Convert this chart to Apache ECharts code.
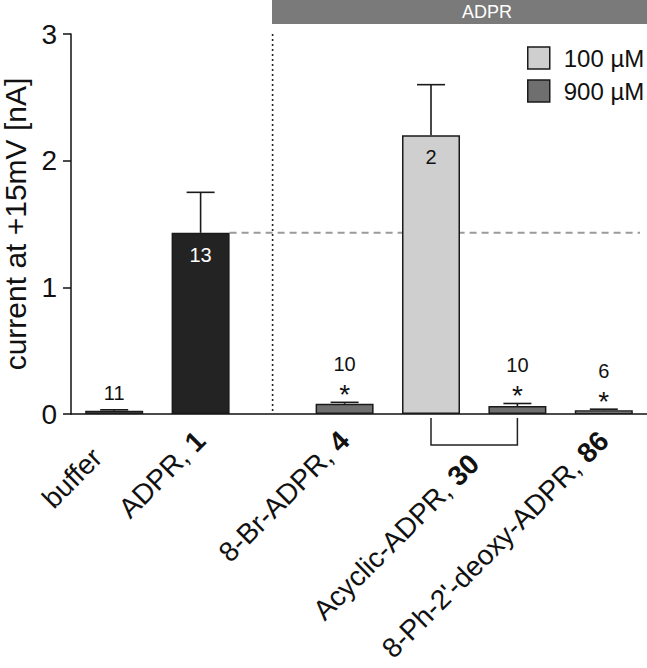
<!DOCTYPE html>
<html><head><meta charset="utf-8">
<script src="https://cdn.jsdelivr.net/npm/echarts@6/dist/echarts.min.js"></script>
<style>html,body{margin:0;padding:0;background:#fff}#c{width:647px;height:668px}</style>
</head><body><div id="c"></div>
<script>
// ---- data ----
const compounds = ['buffer', 'ADPR, 1', '8-Br-ADPR, 4', 'Acyclic-ADPR, 30', 'Acyclic-ADPR, 30', "8-Ph-2'-deoxy-ADPR, 86"];
const concentrations = ['', '', '900 µM', '100 µM', '900 µM', '100 µM'];
const means = [0.025, 1.43, 0.08, 2.2, 0.063, 0.03];
const sems = [0.008, 0.32, 0.012, 0.4, 0.02, 0.008];
const cellCounts = ['11', '13', '10', '2', '10', '6'];
const significant = [false, false, true, false, true, true];
const yTicks = [0, 1, 2, 3];
const legendItems = ['100 µM', '900 µM'];
const bannerText = 'ADPR';
const yTitle = 'current at +15mV [nA]';

// ---- layout ----
const SLOTS = 20;
const slotOf = [1, 4, 9, 12, 15, 18];
const bracketPair = [3, 4];
const dividerSlot = 6;
const refBar = 1;
const FONT = 'Liberation Sans, Arial, Helvetica, sans-serif';
const INK = '#111';
const fills = { control: ['#8e8e8e', '#232323'], '100 µM': '#cfcfcf', '900 µM': '#6f6f6f' };

const cats = Array.from({ length: SLOTS }, (_, k) => 'slot' + k);
const labelOfSlot = {};
slotOf.forEach((s, i) => { labelOfSlot[s] = compounds[i]; });
const labelSlots = slotOf.filter((s, i) => bracketPair.indexOf(i) < 0);
const bracketLabelPos = (slotOf[bracketPair[0]] + slotOf[bracketPair[1]]) / 2 + 0.5;

function rich(name) {
  const k = name.lastIndexOf(', ');
  if (k < 0) return '{t|' + name + '}{p| }';
  return '{t|' + name.slice(0, k + 1) + ' }{b|' + name.slice(k + 2) + '}';
}
const labelRich = {
  t: { fontSize: 28, color: INK, fontFamily: FONT },
  b: { fontSize: 28, color: INK, fontFamily: FONT, fontWeight: 'bold' },
  p: { fontSize: 28, width: 24 }
};

function barItems(conc) {
  const out = [];
  means.forEach((m, i) => {
    if ((conc === 'control' && concentrations[i] === '') || concentrations[i] === conc) {
      const color = conc === 'control' ? fills.control[i] : fills[conc];
      out.push({ value: [slotOf[i], m], itemStyle: { color: color } });
    }
  });
  return out;
}
function barSeries(name, color) {
  return {
    type: 'bar', name: name, data: barItems(name), barWidth: 58, barGap: '-100%', z: 2,
    itemStyle: Object.assign({ borderColor: '#1a1a1a', borderWidth: 1.5 }, color ? { color: color } : {})
  };
}

const errData = means.map((m, i) => [slotOf[i], m, sems[i], i]);

const option = {
  animation: false,
  textStyle: { fontFamily: FONT },
  title: {
    text: bannerText, left: 272, top: 0,
    padding: [3, 200, 3, 190],
    backgroundColor: '#7a7a7a',
    textStyle: { color: '#fff', fontSize: 18, fontWeight: 'normal', fontFamily: FONT }
  },
  legend: {
    data: legendItems, orient: 'vertical', left: 527, top: 46,
    itemWidth: 22, itemHeight: 22, itemGap: 9, padding: 0, icon: 'rect',
    selectedMode: false,
    itemStyle: { borderColor: '#1a1a1a', borderWidth: 1.5 },
    textStyle: { fontSize: 24, color: INK, fontFamily: FONT, padding: [0, 0, 0, 9] }
  },
  grid: { left: 71, right: 0, top: 34, bottom: 254, outerBoundsMode: 'none' },
  xAxis: [{
    type: 'category', data: cats, boundaryGap: true,
    axisLine: { lineStyle: { color: INK, width: 1.5 } },
    axisTick: { alignWithLabel: true, length: 10, lineStyle: { color: INK, width: 1.5 },
      interval: (idx) => slotOf.indexOf(idx) >= 0 },
    axisLabel: { rotate: 45, margin: 22, interval: (idx) => labelSlots.indexOf(idx) >= 0,
      formatter: (v, idx) => labelOfSlot[idx] !== undefined ? rich(labelOfSlot[idx]) : '',
      rich: labelRich },
    splitLine: { show: false }
  }, {
    type: 'value', min: 0, max: SLOTS, interval: bracketLabelPos, position: 'bottom', offset: 23,
    axisLine: { show: false }, axisTick: { show: false }, splitLine: { show: false },
    axisLabel: { rotate: 45, margin: 22, showMaxLabel: false,
      formatter: (v) => v === bracketLabelPos ? rich(compounds[bracketPair[0]]) : '',
      rich: labelRich }
  }],
  yAxis: {
    type: 'value', min: yTicks[0], max: yTicks[yTicks.length - 1], interval: 1,
    name: yTitle, nameLocation: 'middle', nameGap: 35,
    nameTextStyle: { fontSize: 30, lineHeight: 30, color: INK, fontFamily: FONT },
    axisLine: { show: true, lineStyle: { color: INK, width: 1.5 } },
    axisTick: { show: true, length: 8, lineStyle: { color: INK, width: 1.5 } },
    axisLabel: { fontSize: 28, color: INK, margin: 14, fontFamily: FONT },
    splitLine: { show: false }
  },
  series: [
    {
      type: 'custom', z: 1, clip: false, silent: true, data: [[0, 0]],
      renderItem: (params, api) => {
        const cs = params.coordSys;
        const band = api.size([1, 0])[0];
        const refY = api.coord([slotOf[refBar], means[refBar]])[1];
        const refX = api.coord([slotOf[refBar], 0])[0] + 29;
        const divX = api.coord([dividerSlot, 0])[0] + band / 2;
        const yTop = api.coord([0, yTicks[yTicks.length - 1]])[1];
        const yBase = api.coord([0, 0])[1];
        const bx1 = api.coord([slotOf[bracketPair[0]], 0])[0];
        const bx2 = api.coord([slotOf[bracketPair[1]], 0])[0];
        return { type: 'group', children: [
          { type: 'line', shape: { x1: refX, y1: refY, x2: cs.x + cs.width - 7, y2: refY },
            style: { stroke: '#9a9a9a', lineWidth: 2, lineDash: [7, 5] } },
          { type: 'line', shape: { x1: divX, y1: yTop, x2: divX, y2: yBase },
            style: { stroke: '#222', lineWidth: 1.6, lineDash: [2, 3] } },
          { type: 'polyline', shape: { points: [[bx1, yBase + 4], [bx1, yBase + 31], [bx2, yBase + 31], [bx2, yBase + 4]] },
            style: { stroke: '#222', lineWidth: 1.5, fill: null } }
        ] };
      }
    },
    barSeries('control'),
    barSeries(legendItems[0], fills[legendItems[0]]),
    barSeries(legendItems[1], fills[legendItems[1]]),
    {
      type: 'custom', z: 3, clip: false, silent: true, data: errData,
      renderItem: (params, api) => {
        const x = api.value(0), m = api.value(1), s = api.value(2), i = api.value(3);
        const base = api.coord([x, m]);
        const top = api.coord([x, m + s]);
        const st = { stroke: '#1a1a1a', lineWidth: 1.6 };
        const ch = [
          { type: 'line', shape: { x1: base[0], y1: base[1], x2: top[0], y2: top[1] }, style: st },
          { type: 'line', shape: { x1: top[0] - 14, y1: top[1], x2: top[0] + 14, y2: top[1] }, style: st }
        ];
        const tall = m > 0.5;
        if (tall) {
          ch.push({ type: 'text', style: { text: cellCounts[i], x: base[0], y: base[1] + 22,
            align: 'center', verticalAlign: 'middle', fontSize: 20, fontFamily: FONT,
            fill: concentrations[i] === '' ? '#fff' : INK } });
        } else if (significant[i]) {
          ch.push({ type: 'text', style: { text: '*', x: top[0], y: top[1] - 8,
            align: 'center', verticalAlign: 'middle', fontSize: 28, fontFamily: FONT, fill: INK } });
          ch.push({ type: 'text', style: { text: cellCounts[i], x: top[0], y: top[1] - 38,
            align: 'center', verticalAlign: 'middle', fontSize: 20, fontFamily: FONT, fill: INK } });
        } else {
          ch.push({ type: 'text', style: { text: cellCounts[i], x: top[0], y: top[1] - 17,
            align: 'center', verticalAlign: 'middle', fontSize: 20, fontFamily: FONT, fill: INK } });
        }
        return { type: 'group', children: ch };
      }
    }
  ]
};
const chart = echarts.init(document.getElementById('c'), null, { renderer: 'svg' });
chart.setOption(option);
</script></body></html>
